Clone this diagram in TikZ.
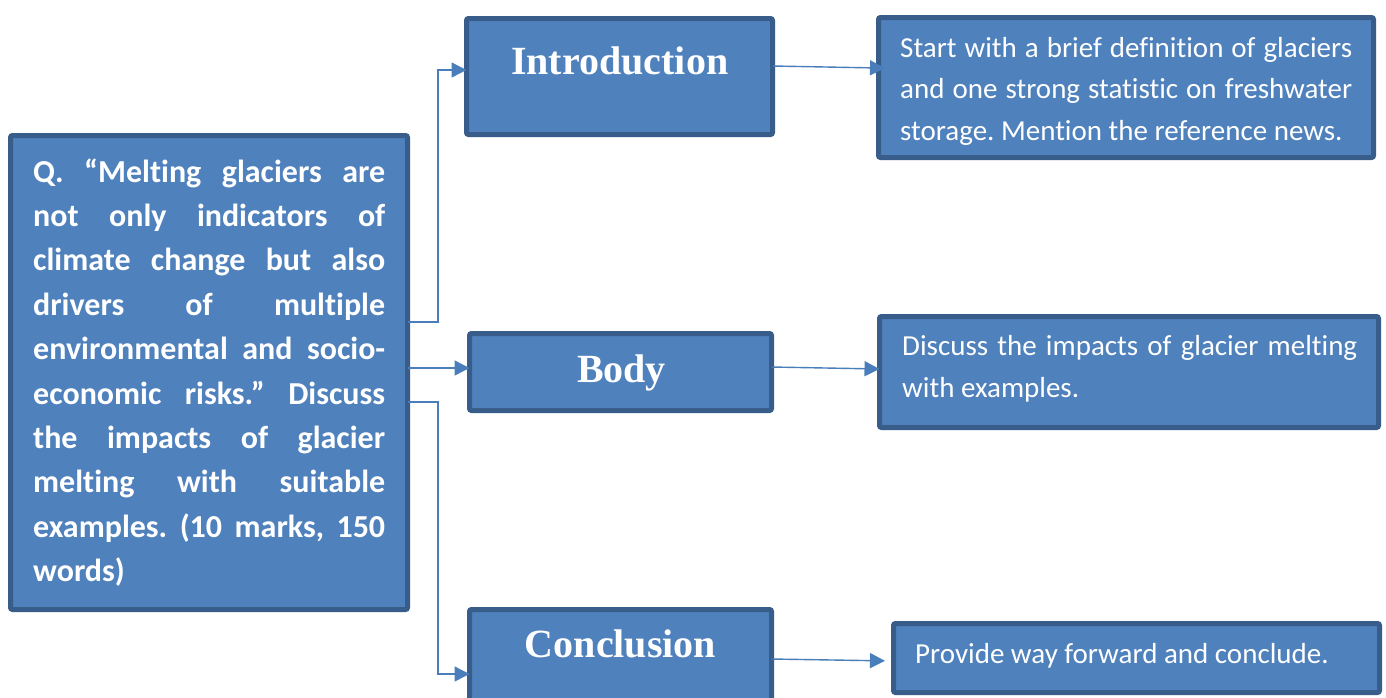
\documentclass[tikz,border=0pt]{standalone}
\usepackage{fontspec}
\setmainfont{Carlito}[Ligatures=NoCommon]
\newfontfamily\headfont{Liberation Serif}
\usetikzlibrary{arrows.meta}
\frenchspacing
\definecolor{boxfill}{HTML}{4F81BD}
\definecolor{boxedge}{HTML}{385D8A}
\definecolor{linkblue}{HTML}{4A7EBB}
\tikzset{
  box/.style={draw=boxedge, fill=boxfill, line width=5pt, rounded corners=2pt,
    inner sep=0pt, outer sep=0pt},
  head/.style={text=white, font=\headfont\bfseries\fontsize{40}{48}\selectfont,
    anchor=base, inner sep=0pt},
  para/.style={text=white, anchor=base west, inner sep=0pt},
  link/.style={draw=linkblue, line width=1.4pt, -{Triangle[length=15pt,width=15pt]}},
}
% one justified line of fixed width
\newcommand\jline[2]{\makebox[#1][s]{#2}}

\begin{document}
\begin{tikzpicture}[x=1pt,y=-1pt]
\clip (0,0) rectangle (1386,697);
\fill[white] (0,0) rectangle (1386,697);

% question
\node[box, minimum width=397pt, minimum height=474pt] (Q) at (209,372.5) {};
\node[para] (Qt) at (33,182) {\parbox[t]{352pt}{\bfseries\fontsize{32}{44.4}\selectfont
  \jline{352pt}{Q. “Melting glaciers are}\\
  \jline{352pt}{not only indicators of}\\
  \jline{352pt}{climate change but also}\\
  \jline{352pt}{drivers of multiple}\\
  \jline{352pt}{environmental and socio-}\\
  \jline{352pt}{economic risks.” Discuss}\\
  \jline{352pt}{the impacts of glacier}\\
  \jline{352pt}{melting with suitable}\\
  \jline{352pt}{examples. (10 marks, 150}\\
  words)}};

% answer parts
\node[box, minimum width=306pt, minimum height=116pt] (intro) at (619.5,76.5) {};
\node[head] (introT) at (619.7,74) {Introduction};
\node[box, minimum width=302pt, minimum height=77pt] (body) at (620.5,372) {};
\node[head] (bodyT) at (621.5,382) {Body};
\node[box, minimum width=302pt, minimum height=117pt] (concl) at (620.5,668) {};
\node[head] (conclT) at (620.5,657) {Conclusion};

% hints
\node[box, minimum width=495pt, minimum height=140pt] (desc1) at (1126,87.5) {};
\node[para] (d1t) at (900,57) {\parbox[t]{452pt}{\fontsize{29}{41.5}\selectfont
  \jline{452pt}{Start with a brief definition of glaciers}\\
  \jline{452pt}{and one strong statistic on freshwater}\\
  storage. Mention the reference news.}};
\node[box, minimum width=499pt, minimum height=111pt] (desc2) at (1129,372) {};
\node[para] (d2t) at (902,355) {\parbox[t]{455pt}{\fontsize{29}{42}\selectfont
  \jline{455pt}{Discuss the impacts of glacier melting}\\
  with examples.}};
\node[box, minimum width=486pt, minimum height=69pt] (desc3) at (1136.5,658) {};
\node[para] (d3t) at (915,663) {\fontsize{29}{35}\selectfont Provide way forward and conclude.};

% connectors from the question
\coordinate (spine) at (438,0);
\coordinate (qA) at ([yshift=50.5pt]Q.east);
\coordinate (inA) at ([yshift=6.5pt]intro.west);
\draw[link] (qA) -- (qA -| spine) -- (spine |- inA) -- (inA);
\coordinate (inB) at ([yshift=4pt]body.west);
\draw[link] (inB -| Q.east) -- (inB);
\coordinate (qC) at ([yshift=-29.5pt]Q.east);
\coordinate (inC) at ([yshift=-6pt]concl.west);
\draw[link] (qC) -- (qC -| spine) -- (spine |- inC) -- (inC);

% connectors to the hints
\draw[link, shorten >=-6.5pt] ([yshift=10.5pt]intro.east) -- ([yshift=19.5pt]desc1.west);
\draw[link] ([yshift=5pt]body.east) -- ([yshift=3pt]desc2.west);
\draw[link, shorten >=8.5pt] ([yshift=9pt]concl.east) -- ([yshift=-3pt]desc3.west);
\end{tikzpicture}
\end{document}
